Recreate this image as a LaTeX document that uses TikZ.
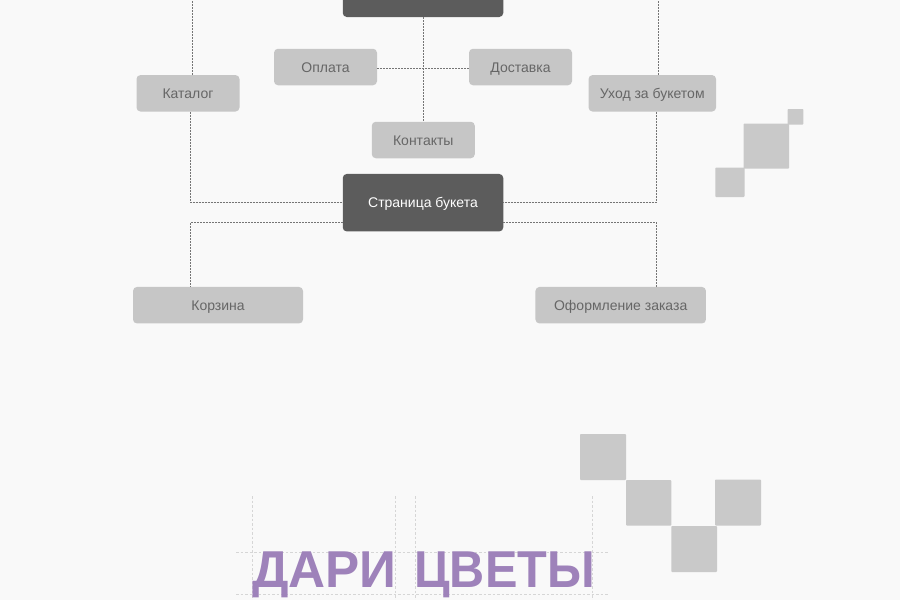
\documentclass[tikz,border=0pt]{standalone}
\usepackage{fontspec}
\usepackage{graphicx}
\setmainfont{Liberation Sans}
\newfontfamily\titlefont{Liberation Sans}
\definecolor{bgc}{HTML}{F9F9F9}
\definecolor{lightbox}{HTML}{C6C6C6}
\definecolor{tilec}{HTML}{C9C9C9}
\definecolor{darkbox}{HTML}{5C5C5C}
\definecolor{labelc}{HTML}{666666}
\definecolor{linec}{HTML}{757575}
\definecolor{guidec}{HTML}{D6D6D6}
\definecolor{titlec}{HTML}{9E82BA}
\tikzset{
  base/.style={rounded corners=4pt,inner sep=0pt,font=\fontsize{14}{16}\selectfont,anchor=center,text height=10pt,text depth=0pt},
  lightnode/.style={base,fill=lightbox,text=labelc},
  darknode/.style={base,fill=darkbox,text=white},
  link/.style={draw=linec,line width=1.3pt,dash pattern=on 2pt off 1pt},
  guide/.style={draw=guidec,line width=.8pt,dash pattern=on 2.5pt off 2pt},
  tile/.style={fill=tilec,rounded corners=.8pt},
  titletext/.style={anchor=base west,inner sep=0pt,text=titlec}
}
\begin{document}
\begin{tikzpicture}[x=1pt,y=-1pt]
\useasboundingbox (0,0) rectangle (900,600);
\fill[bgc] (0,0) rectangle (900,600);
\begin{scope}
\clip (0,0) rectangle (900,600);
% free ends
\coordinate (tl) at (192.5,-2);
\coordinate (tr) at (658.5,-2);
\coordinate (xl) at (190.5,0);
\coordinate (xr) at (656.5,0);
\coordinate (ylow) at (0,222.5);
\coordinate (ymid) at (0,68.5);
\coordinate (jc) at (423.5,68.5);
% nodes
\node[darknode,minimum width=160.5pt,minimum height=57pt] (top) at (423,-11.5) {};
\node[darknode,minimum width=160.5pt,minimum height=57.5pt] (page) at (423,202.7) {Страница букета};
\node[lightnode,minimum width=103pt,minimum height=36.5pt] (pay) at (325.5,67) {Оплата};
\node[lightnode,minimum width=103pt,minimum height=36.5pt] (ship) at (520.5,67) {Доставка};
\node[lightnode,minimum width=103pt,minimum height=36.5pt] (cat) at (188,93.3) {Каталог};
\node[lightnode,minimum width=103pt,minimum height=36.5pt] (cont) at (423.3,140) {Контакты};
\node[lightnode,minimum width=127.5pt,minimum height=36.5pt] (care) at (652.3,93.3) {Уход за букетом};
\node[lightnode,minimum width=170pt,minimum height=36.5pt] (cart) at (218,305.2) {Корзина};
\node[lightnode,minimum width=170.5pt,minimum height=36.5pt] (order) at (620.7,305.2) {Оформление заказа};
% connectors
\draw[link] (tl) -- (tl |- cat.north);
\draw[link] (tr) -- (tr |- care.north);
\draw[link] (xl |- cat.south) -- (xl |- page.west) -- (page.west);
\draw[link] (xr |- care.south) -- (xr |- page.east) -- (page.east);
\draw[link] (page.west |- ylow) -- (xl |- ylow) -- (xl |- cart.north);
\draw[link] (page.east |- ylow) -- (xr |- ylow) -- (xr |- order.north);
\draw[link] (jc |- top.south) -- (jc |- cont.north);
\draw[link] (pay.east |- ymid) -- (ship.west |- ymid);
% tiles
\fill[tile] (787.5,109) rectangle (803.3,124.5);
\fill[tile] (743.5,123.5) rectangle (789,168.7);
\fill[tile] (715.3,167.6) rectangle (744.5,197);
\fill[tile] (580,434) rectangle (626,480);
\fill[tile] (626,480) rectangle (671.3,525.5);
\fill[tile] (671.3,526) rectangle (717,572);
\fill[tile] (715,479.5) rectangle (761,525.5);
% guides
\foreach \gx in {252.5,395.3,415.7,592.3}
  \draw[guide] (\gx,496) -- (\gx,600);
\foreach \gy in {552,594.3}
  \draw[guide] (236,\gy) -- (608,\gy);
% title
\node[titletext] (title1) at (252,587.7)
  {\resizebox{144.5pt}{35.7pt}{\titlefont\bfseries ДАРИ}};
\node[titletext] (title2) at (414.2,587.7)
  {\resizebox{180.5pt}{35.7pt}{\titlefont\bfseries ЦВЕТЫ}};
\end{scope}
\end{tikzpicture}
\end{document}
